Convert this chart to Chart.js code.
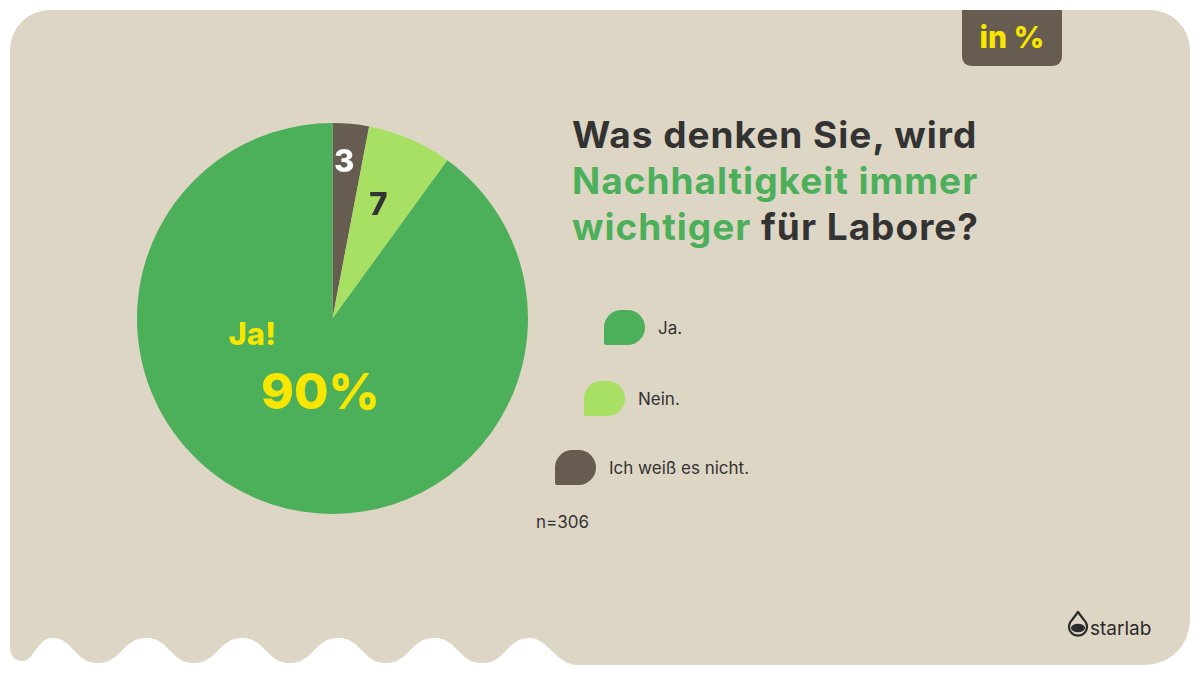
<!DOCTYPE html>
<html lang="de">
<head>
<meta charset="utf-8">
<script src="https://cdn.jsdelivr.net/npm/chart.js@4.4.1/dist/chart.umd.min.js"></script>
<style>
  html, body { margin: 0; padding: 0; background: #ffffff; }
  body { width: 1200px; height: 675px; position: relative; overflow: hidden; font-family: Inter, "Noto Sans", sans-serif; }
  #card { position: absolute; left: 0; top: 0; }
  #badge {
    position: absolute; left: 962px; top: 10px; width: 100px; height: 56px;
    background: #665d50; border-radius: 0 0 9px 9px;
    color: #f7e600; font: 800 30px Inter, sans-serif; text-align: center; line-height: 54px;
  }
  #title {
    position: absolute; left: 572px; top: 112px; margin: 0; white-space: nowrap;
    font: 700 37px/46px Inter, sans-serif; color: #333333; letter-spacing: 1px;
  }
  #title .hl { color: #4caf5a; }
  .chart-box { position: absolute; left: 137px; top: 123px; width: 391px; height: 391px; }
  #legend { position: absolute; left: 0; top: 0; }
  .item { position: absolute; display: flex; align-items: center; white-space: nowrap; font: 400 17px Inter, "Noto Sans", sans-serif; color: #333333; }
  .swatch { flex: 0 0 auto; width: 41px; height: 35px; border-radius: 18px 18px 18px 2px; margin-right: 13px; }
  #note { position: absolute; left: 536px; top: 512px; font: 400 17px Inter, "Noto Sans", sans-serif; color: #333333; }
  #logo { position: absolute; left: 1068px; top: 610px; display: flex; align-items: flex-end; }
  #logo span { font: 400 19px Inter, sans-serif; color: #2b2b2b; margin-left: 2px; line-height: 22px; }
</style>
</head>
<body>
<svg id="card" width="1200" height="675"><path id="cardPath" fill="#ded6c5"></path></svg>
<div id="badge">in %</div>
<h1 id="title">Was denken Sie, wird<br><span class="hl">Nachhaltigkeit immer</span><br><span class="hl">wichtiger</span> für Labore?</h1>
<div class="chart-box"><canvas id="pieChart"></canvas></div>
<div id="legend"></div>
<div id="note">n=306</div>
<div id="logo">
  <svg width="20" height="30" viewBox="0 0 20 30">
    <path d="M10 2 L16 10 A9 9 0 1 1 4 10 Z" fill="none" stroke="#2b2b2b" stroke-width="2.2" stroke-linejoin="round"/>
    <ellipse cx="10" cy="18" rx="7" ry="4.2" fill="#2b2b2b"/>
  </svg>
  <span>starlab</span>
</div>
<script>
// slices clockwise from the top
const CATEGORIES = ['Ich weiß es nicht.', 'Nein.', 'Ja.'];
const VALUES = [3, 7, 90];
const COLORS = ['#665d50', '#a8e063', '#4caf5a'];

// legend order top to bottom and its staggered left edges
const LEGEND_ORDER = [2, 1, 0];
const LEGEND_POS = [[604, 310], [584, 381], [555, 450]];

const SLICE_LABEL_COLORS = ['#ffffff', '#333333'];
const SLICE_LABEL_RADIUS = [0.8, 0.63];

function buildCardPath() {
  const top = 10, left = 10, right = 1190, bottom = 665;
  const crestY = 638, lobeY = 663;
  const crests = [530, 434, 338, 242, 146, 52];
  let d = `M 50 ${top} H 1150 A 40 40 0 0 1 ${right} 50 V 620 A 45 45 0 0 1 1145 ${bottom} H 578 `;
  d += `C 556 ${bottom} 548 ${crestY} ${crests[0]} ${crestY} `;
  for (let i = 0; i < crests.length - 1; i++) {
    const c = crests[i];
    const lobe = c - 48;
    d += `C ${c - 24} ${crestY} ${c - 24} ${lobeY} ${lobe} ${lobeY} `;
    d += `C ${lobe - 24} ${lobeY} ${lobe - 24} ${crestY} ${crests[i + 1]} ${crestY} `;
  }
  d += `C 38 ${crestY} 33 661 23 661 Q ${left} 661 ${left} 646 V 50 A 40 40 0 0 1 50 ${top} Z`;
  document.getElementById('cardPath').setAttribute('d', d);
}

function renderLegend() {
  const legend = document.getElementById('legend');
  legend.innerHTML = LEGEND_ORDER.map((index, row) => `
    <div class="item" style="left:${LEGEND_POS[row][0]}px; top:${LEGEND_POS[row][1]}px">
      <div class="swatch" style="background:${COLORS[index]}"></div>${CATEGORIES[index]}
    </div>
  `).join('');
}

const sliceLabelPlugin = {
  id: 'sliceLabels',
  afterDatasetsDraw(chart) {
    const ctx = chart.ctx;
    const arcs = chart.getDatasetMeta(0).data;
    ctx.save();
    ctx.textAlign = 'center';
    ctx.textBaseline = 'middle';
    arcs.forEach((arc, i) => {
      if (i >= SLICE_LABEL_RADIUS.length) {
        return;
      }
      const mid = (arc.startAngle + arc.endAngle) / 2;
      const r = arc.outerRadius * SLICE_LABEL_RADIUS[i];
      ctx.fillStyle = SLICE_LABEL_COLORS[i];
      ctx.font = '800 31px Inter, sans-serif';
      ctx.fillText(String(VALUES[i]), arc.x + Math.cos(mid) * r - 3, arc.y + Math.sin(mid) * r);
    });
    const big = arcs[2];
    ctx.fillStyle = '#f7e600';
    ctx.font = '800 31px Inter, sans-serif';
    ctx.fillText('Ja!', big.x - 80, big.y + 17);
    ctx.font = '800 50px Inter, sans-serif';
    ctx.fillText(`${VALUES[2]}%`, big.x - 12, big.y + 75);
    ctx.restore();
  }
};

function renderChart() {
  const ctx = document.getElementById('pieChart').getContext('2d');
  new Chart(ctx, {
    type: 'pie',
    data: {
      labels: CATEGORIES,
      datasets: [{
        data: VALUES,
        backgroundColor: COLORS,
        borderWidth: 0
      }]
    },
    options: {
      responsive: true,
      maintainAspectRatio: false,
      animation: false,
      layout: { padding: 0 },
      plugins: {
        legend: { display: false },
        tooltip: { enabled: false }
      }
    },
    plugins: [sliceLabelPlugin]
  });
}

buildCardPath();
renderLegend();
renderChart();
</script>
</body>
</html>
